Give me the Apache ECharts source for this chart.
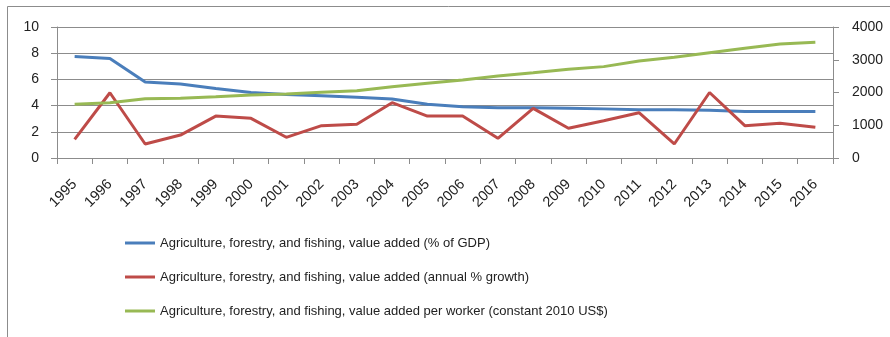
<!DOCTYPE html>
<html>
<head>
<meta charset="utf-8">
<script src="https://cdn.jsdelivr.net/npm/echarts@6/dist/echarts.min.js"></script>
<style>
  html, body { margin: 0; padding: 0; background: #fff; }
  #chart { width: 890px; height: 337px; }
</style>
</head>
<body>
<div id="chart"></div>
<script>
// Years on the category axis
const years = ['1995','1996','1997','1998','1999','2000','2001','2002','2003','2004','2005',
  '2006','2007','2008','2009','2010','2011','2012','2013','2014','2015','2016'];

// Value added, % of GDP (left axis)
const shareOfGdp = [7.75, 7.6, 5.8, 5.65, 5.3, 5.0, 4.85, 4.75, 4.63, 4.5, 4.1,
  3.92, 3.84, 3.84, 3.8, 3.75, 3.68, 3.68, 3.65, 3.55, 3.55, 3.55];

// Value added, annual % growth (left axis)
const annualGrowth = [1.42, 4.98, 1.07, 1.75, 3.2, 3.03, 1.58, 2.47, 2.57, 4.22, 3.2,
  3.2, 1.5, 3.79, 2.27, 2.85, 3.46, 1.07, 5.0, 2.47, 2.65, 2.34];

// Value added per worker, constant 2010 US$ (right axis)
const perWorker = [1640, 1690, 1810, 1823, 1870, 1924, 1954, 2006, 2055, 2177, 2280,
  2380, 2504, 2605, 2708, 2790, 2962, 3075, 3215, 3350, 3481, 3533];

const seriesNames = [
  'Agriculture, forestry, and fishing, value added (% of GDP)',
  'Agriculture, forestry, and fishing, value added (annual % growth)',
  'Agriculture, forestry, and fishing, value added per worker (constant 2010 US$)'
];

const leftTicks = { min: 0, max: 10, interval: 2 };
const rightTicks = { min: 0, max: 4000, interval: 1000 };

const FONT = '"Liberation Sans", Arial, sans-serif';
const GREY = '#8c8c8c';
const axisLabel = { color: '#222', fontSize: 14, fontFamily: FONT };
const axisLine = { show: true, lineStyle: { color: GREY, width: 1 } };

const chart = echarts.init(document.getElementById('chart'), null, { renderer: 'canvas' });

chart.setOption({
  animation: false,
  backgroundColor: '#fff',
  color: ['#4A7EBB', '#BE4B48', '#98B954'],
  graphic: [
    // outer frame edges (top and left)
    { type: 'line', shape: { x1: 7.5, y1: 6.5, x2: 890, y2: 6.5 }, style: { stroke: GREY, lineWidth: 1 } },
    { type: 'line', shape: { x1: 7.5, y1: 6.5, x2: 7.5, y2: 337 }, style: { stroke: GREY, lineWidth: 1 } }
  ],
  grid: { left: 57, right: 57, top: 27, bottom: 179, containLabel: false },
  legend: {
    orient: 'vertical',
    left: 125,
    top: 236,
    padding: 0,
    itemWidth: 30,
    itemHeight: 3,
    itemGap: 20,
    itemTextGap: 2,
    icon: 'rect',
    textStyle: { color: '#222', fontSize: 13, fontFamily: FONT, lineHeight: 14 },
    data: seriesNames
  },
  xAxis: {
    type: 'category',
    data: years,
    boundaryGap: true,
    axisLine: axisLine,
    axisTick: { show: true, alignWithLabel: false, length: 6, lineStyle: { color: GREY } },
    axisLabel: Object.assign({}, axisLabel, { rotate: 45, interval: 0, margin: 24, fontSize: 14.5 }),
    splitLine: { show: false }
  },
  yAxis: [
    {
      type: 'value',
      min: leftTicks.min, max: leftTicks.max, interval: leftTicks.interval,
      axisLine: axisLine,
      axisTick: { show: true, length: 6, lineStyle: { color: GREY } },
      axisLabel: Object.assign({}, axisLabel, { margin: 18 }),
      splitLine: { show: true, lineStyle: { color: GREY, width: 1 } }
    },
    {
      type: 'value',
      min: rightTicks.min, max: rightTicks.max, interval: rightTicks.interval,
      position: 'right',
      axisLine: axisLine,
      axisTick: { show: true, length: 6, lineStyle: { color: GREY } },
      axisLabel: Object.assign({}, axisLabel, { margin: 19, formatter: v => String(v) }),
      splitLine: { show: false }
    }
  ],
  series: [
    {
      name: seriesNames[0], type: 'line', yAxisIndex: 0, data: shareOfGdp,
      symbol: 'none', lineStyle: { width: 3 }
    },
    {
      name: seriesNames[1], type: 'line', yAxisIndex: 0, data: annualGrowth,
      symbol: 'none', lineStyle: { width: 3 }
    },
    {
      name: seriesNames[2], type: 'line', yAxisIndex: 1, data: perWorker,
      symbol: 'none', lineStyle: { width: 3 }
    }
  ]
});
</script>
</body>
</html>
